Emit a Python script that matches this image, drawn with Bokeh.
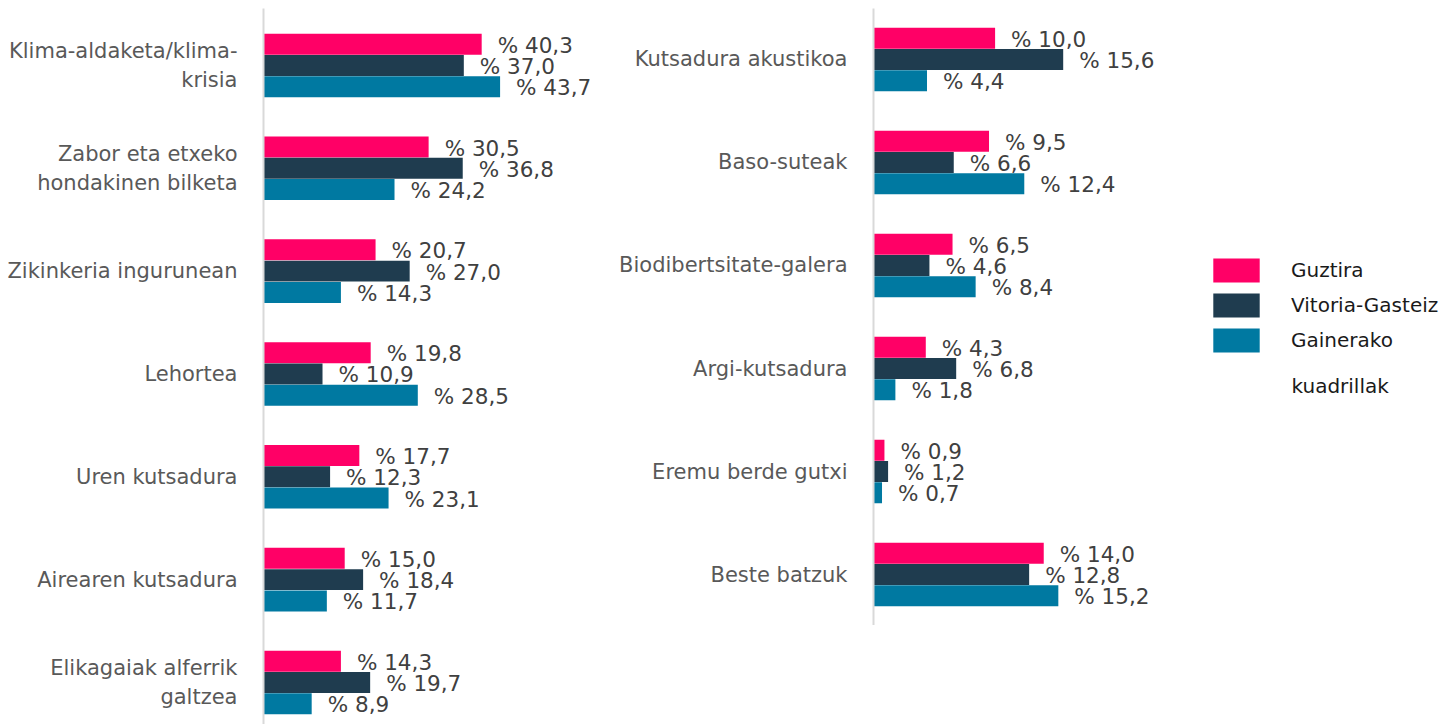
import numpy as np
from bokeh.plotting import figure
from bokeh.models import (ColumnDataSource, Range1d, FixedTicker, Legend, LegendItem, Label)
from bokeh.layouts import row
from bokeh.core.properties import value
from bokeh.embed import file_html
from bokeh.resources import INLINE

# ---------------- data ----------------
categories_left = [
    "Klima-aldaketa/klima-\nkrisia",
    "Zabor eta etxeko\nhondakinen bilketa",
    "Zikinkeria ingurunean",
    "Lehortea",
    "Uren kutsadura",
    "Airearen kutsadura",
    "Elikagaiak alferrik\ngaltzea",
]
guztira_left = [40.3, 30.5, 20.7, 19.8, 17.7, 15.0, 14.3]
vitoria_left = [37.0, 36.8, 27.0, 10.9, 12.3, 18.4, 19.7]
gainerako_left = [43.7, 24.2, 14.3, 28.5, 23.1, 11.7, 8.9]

categories_right = [
    "Kutsadura akustikoa",
    "Baso-suteak",
    "Biodibertsitate-galera",
    "Argi-kutsadura",
    "Eremu berde gutxi",
    "Beste batzuk",
]
guztira_right = [10.0, 9.5, 6.5, 4.3, 0.9, 14.0]
vitoria_right = [15.6, 6.6, 4.6, 6.8, 1.2, 12.8]
gainerako_right = [4.4, 12.4, 8.4, 1.8, 0.7, 15.2]

series_names = ["Guztira", "Vitoria-Gasteiz", "Gainerako"]
series_colors = ["#FF0066", "#1F3C4F", "#0079A1"]

FONT = value("DejaVu Sans")
BAR_H = 0.204
OFFSETS = [-0.207, 0.0, 0.207]


def fmt(v):
    return "% " + f"{v:.1f}".replace(".", ",")


def make_panel(cats, series, width, height, b_left, b_top, x_end, y_top, y_bottom):
    p = figure(width=width, height=height,
               x_range=Range1d(0, x_end), y_range=Range1d(y_bottom, y_top),
               x_axis_location=None, toolbar_location=None, output_backend="svg",
               min_border_left=b_left, min_border_right=0,
               min_border_top=b_top, min_border_bottom=0,
               outline_line_color=None, background_fill_color=None,
               border_fill_color=None)
    p.grid.visible = False
    idx = np.arange(len(cats))
    rends = []
    for vals, color, off in zip(series, series_colors, OFFSETS):
        src = ColumnDataSource(dict(y=idx + off, v=vals, lab=[fmt(v) for v in vals]))
        r = p.hbar(y="y", left=0, right="v", height=BAR_H, fill_color=color,
                   line_color=None, source=src)
        p.text(x="v", y="y", text="lab", x_offset=16, y_offset=1,
               text_baseline="middle", text_align="left", text_font=FONT,
               text_font_size="21.5px", text_color="#404040", source=src)
        rends.append(r)
    ax = p.yaxis[0]
    ax.ticker = FixedTicker(ticks=list(range(len(cats))))
    ax.major_label_overrides = {i: c for i, c in enumerate(cats)}
    ax.major_label_text_font = "DejaVu Sans"
    ax.major_label_text_font_size = "21px"
    ax.major_label_text_color = "#595959"
    ax.major_label_standoff = 20
    ax.major_tick_line_color = None
    ax.minor_tick_line_color = None
    ax.axis_line_color = "#D9D9D9"
    ax.axis_line_width = 2
    return p, rends


# left panel: frame from x=263 (screen), scale 5.414 px/unit, group pitch 102.83 px
left, _ = make_panel(categories_left, [guztira_left, vitoria_left, gainerako_left],
                     width=613, height=724, b_left=263, b_top=8,
                     x_end=350 / 5.414, y_top=-0.554, y_bottom=6.409)

# right panel: frame from x=873, scale 12.16 px/unit, group pitch 103 px
right, rends = make_panel(categories_right, [guztira_right, vitoria_right, gainerako_right],
                          width=830, height=625, b_left=260, b_top=8,
                          x_end=570 / 12.16, y_top=-0.495, y_bottom=5.495)

legend = Legend(items=[LegendItem(label=n, renderers=[r]) for n, r in zip(series_names, rends)],
                location=(334, 270), orientation="vertical",
                glyph_width=58, glyph_height=30, label_height=30, label_width=10,
                spacing=5, label_standoff=26, padding=0, margin=0,
                border_line_color=None, background_fill_alpha=0,
                label_text_font="DejaVu Sans", label_text_font_size="20px",
                label_text_color="#1A1A1A", label_text_baseline="middle")
right.add_layout(legend)
right.add_layout(Label(x=418, y=240, x_units="screen", y_units="screen", text="kuadrillak",
                       text_font="DejaVu Sans", text_font_size="20px", text_color="#1A1A1A",
                       text_baseline="alphabetic", text_align="left"))

layout = row(left, right, spacing=0)

open("out.html", "w").write(file_html(layout, INLINE))
